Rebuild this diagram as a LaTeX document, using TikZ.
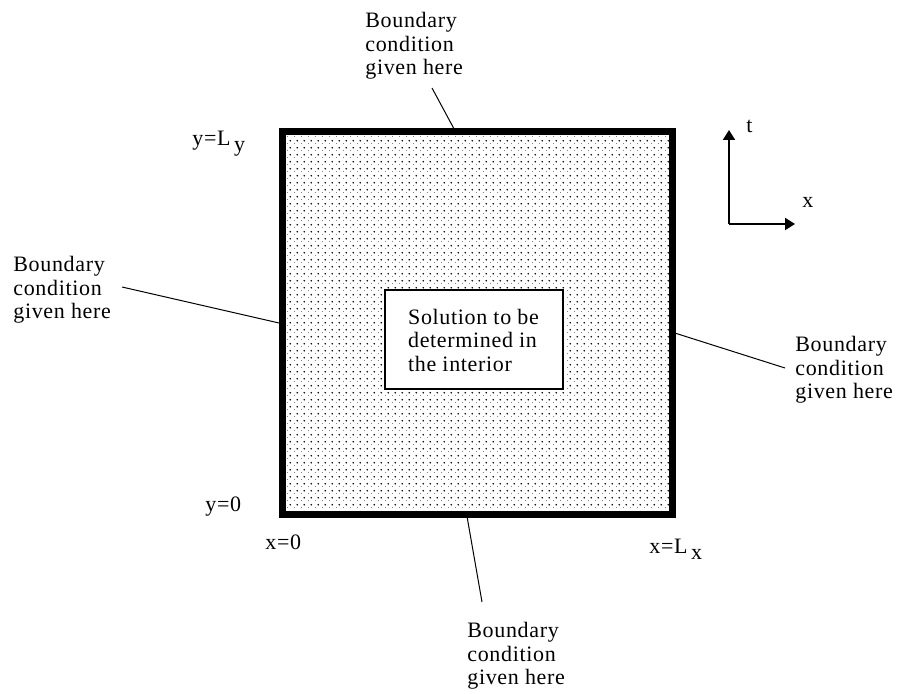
\documentclass[tikz,border=0pt]{standalone}
\usepackage{fontspec}
\setmainfont{Liberation Serif}[LetterSpace=3]
\usepackage{tikz}
\usetikzlibrary{positioning,calc,patterns,arrows.meta}

\pgfdeclarepatternformonly{stipple}{\pgfpointorigin}{\pgfqpoint{3.6pt}{3.6pt}}{\pgfqpoint{3.6pt}{3.6pt}}{%
  \pgfpathcircle{\pgfqpoint{0pt}{0pt}}{0.55pt}%
  \pgfpathcircle{\pgfqpoint{1.8pt}{1.8pt}}{0.55pt}%
  \pgfusepath{fill}}

\begin{document}
\begin{tikzpicture}[x=0.5pt,y=-0.5pt,font=\fontsize{11}{11.75}\selectfont,
  note/.style={anchor=north west,inner sep=0pt,align=left},
  tag/.style={anchor=base west,inner sep=0pt},
  pointer/.style={line width=0.5pt},
  axis/.style={line width=1pt,-{Triangle[length=5pt,width=6pt]}}]
\useasboundingbox (0,0) rectangle (899,694);
% domain and interior box
\node[draw,line width=3.5pt,pattern=stipple,pattern color=black,
  minimum width=195pt,minimum height=191.5pt,inner sep=0pt] (dom) at (477.5,323) {};
\node[draw,line width=1pt,fill=white,minimum width=89pt,minimum height=49.5pt,
  align=left] (inside) at (473.5,340) {Solution to be\\determined in\\the interior};
% boundary notes
\node[note] (bcT) at (365,12) {Boundary\\condition\\given here};
\node[note] (bcL) at (13,256) {Boundary\\condition\\given here};
\node[note] (bcR) at (795,336) {Boundary\\condition\\given here};
\node[note] (bcB) at (467,622) {Boundary\\condition\\given here};
\coordinate (cT) at (432,88);
\coordinate (cL) at (122,287);
\coordinate (cR) at (785,368);
\coordinate (cB) at (482,602);
\draw[pointer] (cT) -- (dom.97);
\draw[pointer] (cL) -- (dom.west);
\draw[pointer] (cR) -- (dom.357);
\draw[pointer] (cB) -- (dom.267);
% corner values
\node[tag] (yL) at (192,146) {y=L\,\raisebox{-3pt}{y}};
\node[tag] (y0) at (205,512) {y=0};
\node[tag] (x0) at (265,550) {x=0};
\node[tag] (xL) at (649,553) {x=L\,\raisebox{-3pt}{x}};
% axes
\coordinate (orig) at (729,224);
\coordinate (tend) at (729,130);
\coordinate (xend) at (795,224);
\draw[axis] (orig) -- (tend);
\draw[axis] (orig) -- (xend);
\node[tag] (tlab) at (746,133) {t};
\node[tag] (xlab) at (802,208) {x};
\end{tikzpicture}
\end{document}
